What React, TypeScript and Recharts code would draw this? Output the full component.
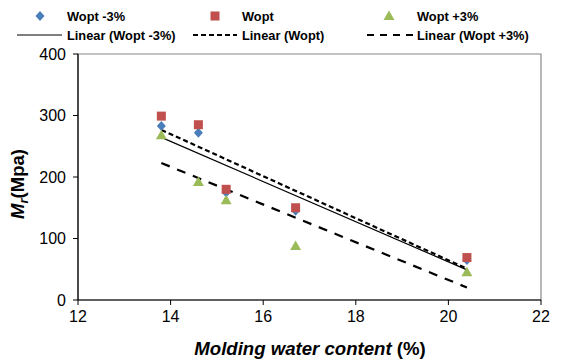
import { ScatterChart, Scatter, XAxis, YAxis, ReferenceArea } from "recharts";

const moisture = [13.8, 14.6, 15.2, 16.7, 20.4];
const mrMinus3 = [283, 272, 175, 145, 65];
const mrOpt = [299, 285, 180, 150, 69];
const mrPlus3 = [268, 192, 162, 88, 45];
const xTicks = [12, 14, 16, 18, 20, 22];
const yTicks = [0, 100, 200, 300, 400];

const FONT = "'Liberation Sans', Arial, sans-serif";

const toPoints = (ys: number[]) => moisture.map((x, i) => ({ x, y: ys[i] }));

// least squares trend line, drawn between first and last x
function trend(ys: number[]) {
  const n = moisture.length;
  const mx = moisture.reduce((a, b) => a + b, 0) / n;
  const my = ys.reduce((a, b) => a + b, 0) / n;
  let sxy = 0, sxx = 0;
  moisture.forEach((x, i) => {
    sxy += (x - mx) * (ys[i] - my);
    sxx += (x - mx) * (x - mx);
  });
  const b = sxy / sxx;
  const x0 = Math.min(...moisture), x1 = Math.max(...moisture);
  return [
    { x: x0, y: my + b * (x0 - mx) },
    { x: x1, y: my + b * (x1 - mx) },
  ];
}

const Diamond = (p: any) => (
  <polygon points={`${p.cx},${p.cy - 5} ${p.cx + 4.5},${p.cy} ${p.cx},${p.cy + 5} ${p.cx - 4.5},${p.cy}`} fill="#4a7ebb" />
);
const Square = (p: any) => <rect x={p.cx - 4.5} y={p.cy - 4.5} width={9} height={9} fill="#c0504d" />;
const Triangle = (p: any) => (
  <polygon points={`${p.cx},${p.cy - 5.5} ${p.cx + 5.5},${p.cy + 4} ${p.cx - 5.5},${p.cy + 4}`} fill="#9bbb59" />
);
const NoDot = () => <g />;

function Legend() {
  return (
    <svg width={565} height={48} style={{ position: "absolute", left: 0, top: 0 }}>
      <Diamond cx={40} cy={16} />
      <Square cx={215} cy={16} />
      <Triangle cx={389} cy={16} />
      <line x1={17} x2={62} y1={35} y2={35} stroke="#000" strokeWidth={1.2} />
      <line x1={193} x2={237} y1={35} y2={35} stroke="#000" strokeWidth={2} strokeDasharray="5 3" />
      <line x1={367} x2={413} y1={35} y2={35} stroke="#000" strokeWidth={2} strokeDasharray="7 6" />
      <g fontFamily={FONT} fontWeight="bold" fontSize={12.8} fill="#000">
        <text x={67} y={20.5}>Wopt -3%</text>
        <text x={242} y={20.5}>Wopt</text>
        <text x={417} y={20.5}>Wopt +3%</text>
        <text x={67} y={39.5}>Linear (Wopt -3%)</text>
        <text x={242} y={39.5}>Linear (Wopt)</text>
        <text x={417} y={39.5}>Linear (Wopt +3%)</text>
      </g>
    </svg>
  );
}

export default function App() {
  const tick = { fill: "#000", fontSize: 16, fontFamily: FONT };
  return (
    <div style={{ position: "fixed", left: 0, top: 0, width: 565, height: 363, background: "#fff" }}>
      <ScatterChart width={565} height={363} margin={{ top: 54, right: 24, left: 0, bottom: 0 }}>
        <ReferenceArea x1={12} x2={22} y1={0} y2={400} fill="none" stroke="#888" strokeWidth={1.2} ifOverflow="visible" />
        <XAxis
          type="number" dataKey="x" domain={[12, 22]} ticks={xTicks} height={63}
          axisLine={{ stroke: "#000", strokeWidth: 1.2 }} tickLine={{ stroke: "#000" }}
          tickSize={5} tickMargin={6} tick={tick}
          label={{
            content: () => (
              <text x={310} y={355} textAnchor="middle" fontFamily={FONT} fontWeight="bold" fontSize={18.6} fill="#000">
                <tspan fontStyle="italic">Molding water content</tspan> (%)
              </text>
            ),
          }}
        />
        <YAxis
          type="number" dataKey="y" domain={[0, 400]} ticks={yTicks} width={78}
          axisLine={{ stroke: "#000", strokeWidth: 1.2 }} tickLine={{ stroke: "#000" }}
          tickSize={5} tickMargin={7} tick={tick}
          label={{
            content: () => (
              <text transform="translate(24,184) rotate(-90)" textAnchor="middle" fontFamily={FONT} fontWeight="bold" fontSize={18.5} fill="#000">
                <tspan fontStyle="italic">M</tspan>
                <tspan fontStyle="italic" fontSize={13} dy={4}>r</tspan>
                <tspan dy={-4}>(Mpa)</tspan>
              </text>
            ),
          }}
        />
        <Scatter data={trend(mrMinus3)} line={{ stroke: "#000", strokeWidth: 1.2 }} shape={NoDot} isAnimationActive={false} />
        <Scatter data={trend(mrOpt)} line={{ stroke: "#000", strokeWidth: 2.2, strokeDasharray: "5 3" }} shape={NoDot} isAnimationActive={false} />
        <Scatter data={trend(mrPlus3)} line={{ stroke: "#000", strokeWidth: 2.2, strokeDasharray: "9 8" }} shape={NoDot} isAnimationActive={false} />
        <Scatter data={toPoints(mrMinus3)} shape={Diamond} isAnimationActive={false} />
        <Scatter data={toPoints(mrOpt)} shape={Square} isAnimationActive={false} />
        <Scatter data={toPoints(mrPlus3)} shape={Triangle} isAnimationActive={false} />
      </ScatterChart>
      <Legend />
    </div>
  );
}
